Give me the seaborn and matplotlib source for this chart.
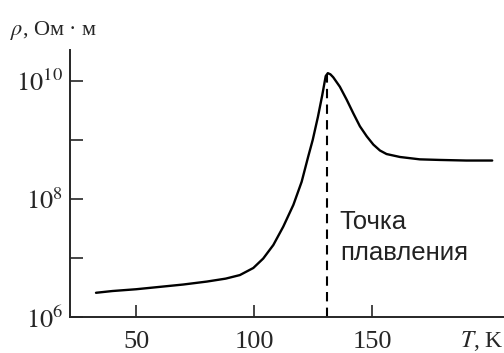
import seaborn as sns
import matplotlib.pyplot as plt
from matplotlib.ticker import NullFormatter

# resistivity vs temperature, rho = 10**log_rho
T = [33, 40, 50, 60, 70, 80, 88, 94, 99.7, 103.9, 108.2, 112.4, 116.7,
     120.2, 123, 124.9, 127.1, 128.9, 130.4, 131.3, 132.4, 133.6, 136.4,
     139.3, 142.1, 144.9, 147.8, 150.6, 153.4, 156.2, 161.9, 170.3, 178.8,
     190, 201]
log_rho = [6.41, 6.44, 6.47, 6.51, 6.55, 6.60, 6.65, 6.71, 6.83, 6.99, 7.22,
           7.53, 7.90, 8.29, 8.72, 9.00, 9.39, 9.75, 10.08, 10.13, 10.11,
           10.06, 9.90, 9.68, 9.45, 9.23, 9.06, 8.92, 8.82, 8.76, 8.71, 8.67,
           8.66, 8.65, 8.65]
rho = [10 ** v for v in log_rho]

T_melt = 131
rho_peak = 10 ** 10.12
x_ticks = [50, 100, 150]
y_major = [1e6, 1e8, 1e10]
y_labels = ['$10^6$', '$10^8$', '$10^{10}$']
y_minor = [1e7, 1e9]

sns.set_style('ticks')
plt.rcParams['font.family'] = ['Liberation Serif', 'DejaVu Serif']
plt.rcParams['mathtext.fontset'] = 'stix'

fig = plt.figure(figsize=(5.04, 3.53), dpi=100)
ax = fig.add_axes([0.139, 0.102, 0.861, 0.756])

sns.lineplot(x=T, y=rho, ax=ax, color='black', linewidth=1.7)
ax.vlines(T_melt, 1e6, rho_peak, colors='black', linestyles=(0, (4.5, 3)),
          linewidth=1.5)

ax.set_yscale('log')
ax.set_xlim(22, 206)
ax.set_ylim(1e6, 10 ** 10.52)

ax.set_xticks(x_ticks)
ax.set_xticklabels([str(v) for v in x_ticks])
ax.set_yticks(y_major)
ax.set_yticklabels(y_labels)
ax.set_yticks(y_minor, minor=True)
ax.yaxis.set_minor_formatter(NullFormatter())
ax.tick_params(axis='both', which='major', direction='in', length=9,
               width=1.2, labelsize=19, pad=5)
ax.tick_params(axis='x', pad=10)
ax.tick_params(axis='y', which='minor', direction='in', length=9, width=1.2)
ax.tick_params(axis='x', which='minor', bottom=False)

for s in ['left', 'bottom']:
    ax.spines[s].set_linewidth(1.4)
sns.despine(ax=ax)

note_font = ['Liberation Sans', 'DejaVu Sans']
ax.text(136.4, 10 ** 7.49, 'Точка', fontsize=18.5, family=note_font,
        va='baseline', ha='left', color='#222222')
ax.text(136.4, 10 ** 6.97, 'плавления', fontsize=18.5, family=note_font,
        va='baseline', ha='left', color='#222222')

fig.text(0.02, 0.915, '$\\rho$, Ом · м', fontsize=16, ha='left', va='center')
fig.text(1.0, 0.017, '$T$, K', fontsize=17, ha='right', va='baseline')

fig.savefig('out.png', dpi=100)
